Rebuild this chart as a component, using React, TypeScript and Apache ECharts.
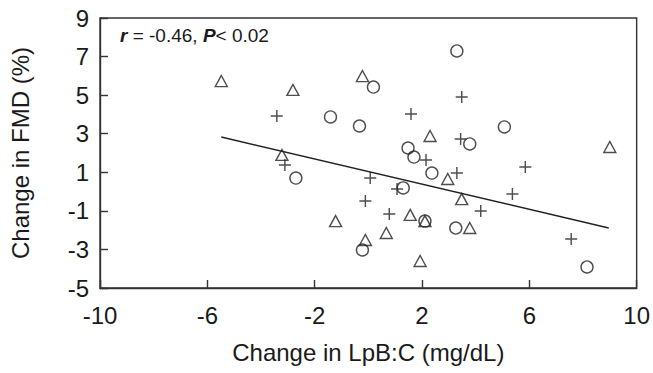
import React, { useEffect, useRef } from "react";
import * as echarts from "echarts";

// Change in LpB:C (mg/dL) vs change in FMD (%) — three groups
const circleX = [0.19, -1.41, -0.33, 1.48, 1.7, 3.3, 5.07, 3.78, -2.7, 1.3, 2.37, 2.11, 3.26, -0.22, 8.15];
const circleY = [5.42, 3.87, 3.4, 2.26, 1.79, 7.29, 3.35, 2.47, 0.7, 0.19, 0.96, -1.53, -1.89, -3.03, -3.91];

const triangleX = [-5.48, -2.81, -0.22, -3.22, 2.3, 9.0, 2.96, 3.48, -1.22, 1.56, 2.11, 3.78, 0.67, -0.11, 1.93];
const triangleY = [5.73, 5.27, 5.99, 1.9, 2.88, 2.31, 0.65, -0.39, -1.53, -1.21, -1.53, -1.89, -2.15, -2.51, -3.6];

const plusX = [-3.41, 1.59, 3.48, 3.44, -3.11, 2.15, 0.07, 3.3, 5.85, 1.07, -0.11, 5.37, 4.19, 0.78, 7.56];
const plusY = [3.92, 4.02, 4.9, 2.73, 1.38, 1.64, 0.7, 0.96, 1.27, 0.13, -0.49, -0.13, -1.01, -1.16, -2.46];

// regression line endpoints
const fitX = [-5.48, 8.96];
const fitY = [2.83, -1.89];

const xTicks = { min: -10, max: 10, interval: 4 };
const yTicks = { min: -5, max: 9, interval: 2 };

const xTitle = "Change in LpB:C (mg/dL)";
const yTitle = "Change in FMD (%)";

const zip = (xs: number[], ys: number[]) => xs.map((x, i) => [x, ys[i]]);

const FONT = "'Liberation Sans', Arial, Helvetica, sans-serif";
const INK = "#1a1a1a";
const PLUS =
  "path://M4.4,0 H5.6 V4.4 H10 V5.6 H5.6 V10 H4.4 V5.6 H0 V4.4 H4.4 Z";

export default function App() {
  const ref = useRef<HTMLDivElement>(null);
  useEffect(() => {
    if (!ref.current) return;
    document.body.style.margin = "0";
    document.body.style.overflow = "hidden";
    const chart = echarts.init(ref.current, null, { renderer: "svg" });
    const axisCommon = {
      axisLine: { show: true, onZero: false, lineStyle: { color: "#333", width: 1.4 } },
      axisTick: { show: true, inside: true, length: 8, lineStyle: { color: "#333", width: 1.4 } },
      splitLine: { show: false },
      nameLocation: "middle" as const,
      nameTextStyle: { fontSize: 24, color: INK, fontFamily: FONT },
    };
    chart.setOption({
      animation: false,
      backgroundColor: "#fff",
      grid: {
        left: 99,
        right: 14,
        top: 18,
        bottom: 85,
        show: true,
        borderColor: "#333",
        borderWidth: 1.4,
      },
      xAxis: {
        type: "value",
        ...xTicks,
        ...axisCommon,
        name: xTitle,
        nameGap: 52,
        axisLabel: { fontSize: 24, color: INK, fontFamily: FONT, margin: 15 },
      },
      yAxis: {
        type: "value",
        ...yTicks,
        ...axisCommon,
        name: yTitle,
        nameRotate: 90,
        nameGap: 68,
        axisLabel: { fontSize: 24, color: INK, fontFamily: FONT, margin: 11 },
      },
      graphic: [
        {
          type: "text",
          left: 120,
          top: 26,
          style: {
            text: "{b|r} = -0.46, {b|P}< 0.02",
            font: `19px ${FONT}`,
            fill: INK,
            rich: {
              b: { fontStyle: "italic", fontWeight: "bold", fontSize: 19, fontFamily: FONT, fill: INK },
            },
          },
        },
      ],
      series: [
        {
          type: "line",
          data: zip(fitX, fitY),
          symbol: "none",
          lineStyle: { color: "#222", width: 1.5 },
          z: 1,
        },
        {
          type: "scatter",
          data: zip(circleX, circleY),
          symbol: "circle",
          symbolSize: 12,
          itemStyle: { color: "rgba(255,255,255,0)", borderColor: "#222", borderWidth: 1.4 },
          z: 3,
        },
        {
          type: "scatter",
          data: zip(triangleX, triangleY),
          symbol: "triangle",
          symbolSize: [12, 11],
          itemStyle: { color: "rgba(255,255,255,0)", borderColor: "#222", borderWidth: 1.4 },
          z: 3,
        },
        {
          type: "scatter",
          data: zip(plusX, plusY),
          symbol: PLUS,
          symbolSize: 12,
          itemStyle: { color: "#222" },
          z: 3,
        },
      ],
    });
    return () => chart.dispose();
  }, []);
  return (
    <div
      ref={ref}
      style={{ position: "absolute", left: 0, top: 0, width: 653, height: 373 }}
    />
  );
}
